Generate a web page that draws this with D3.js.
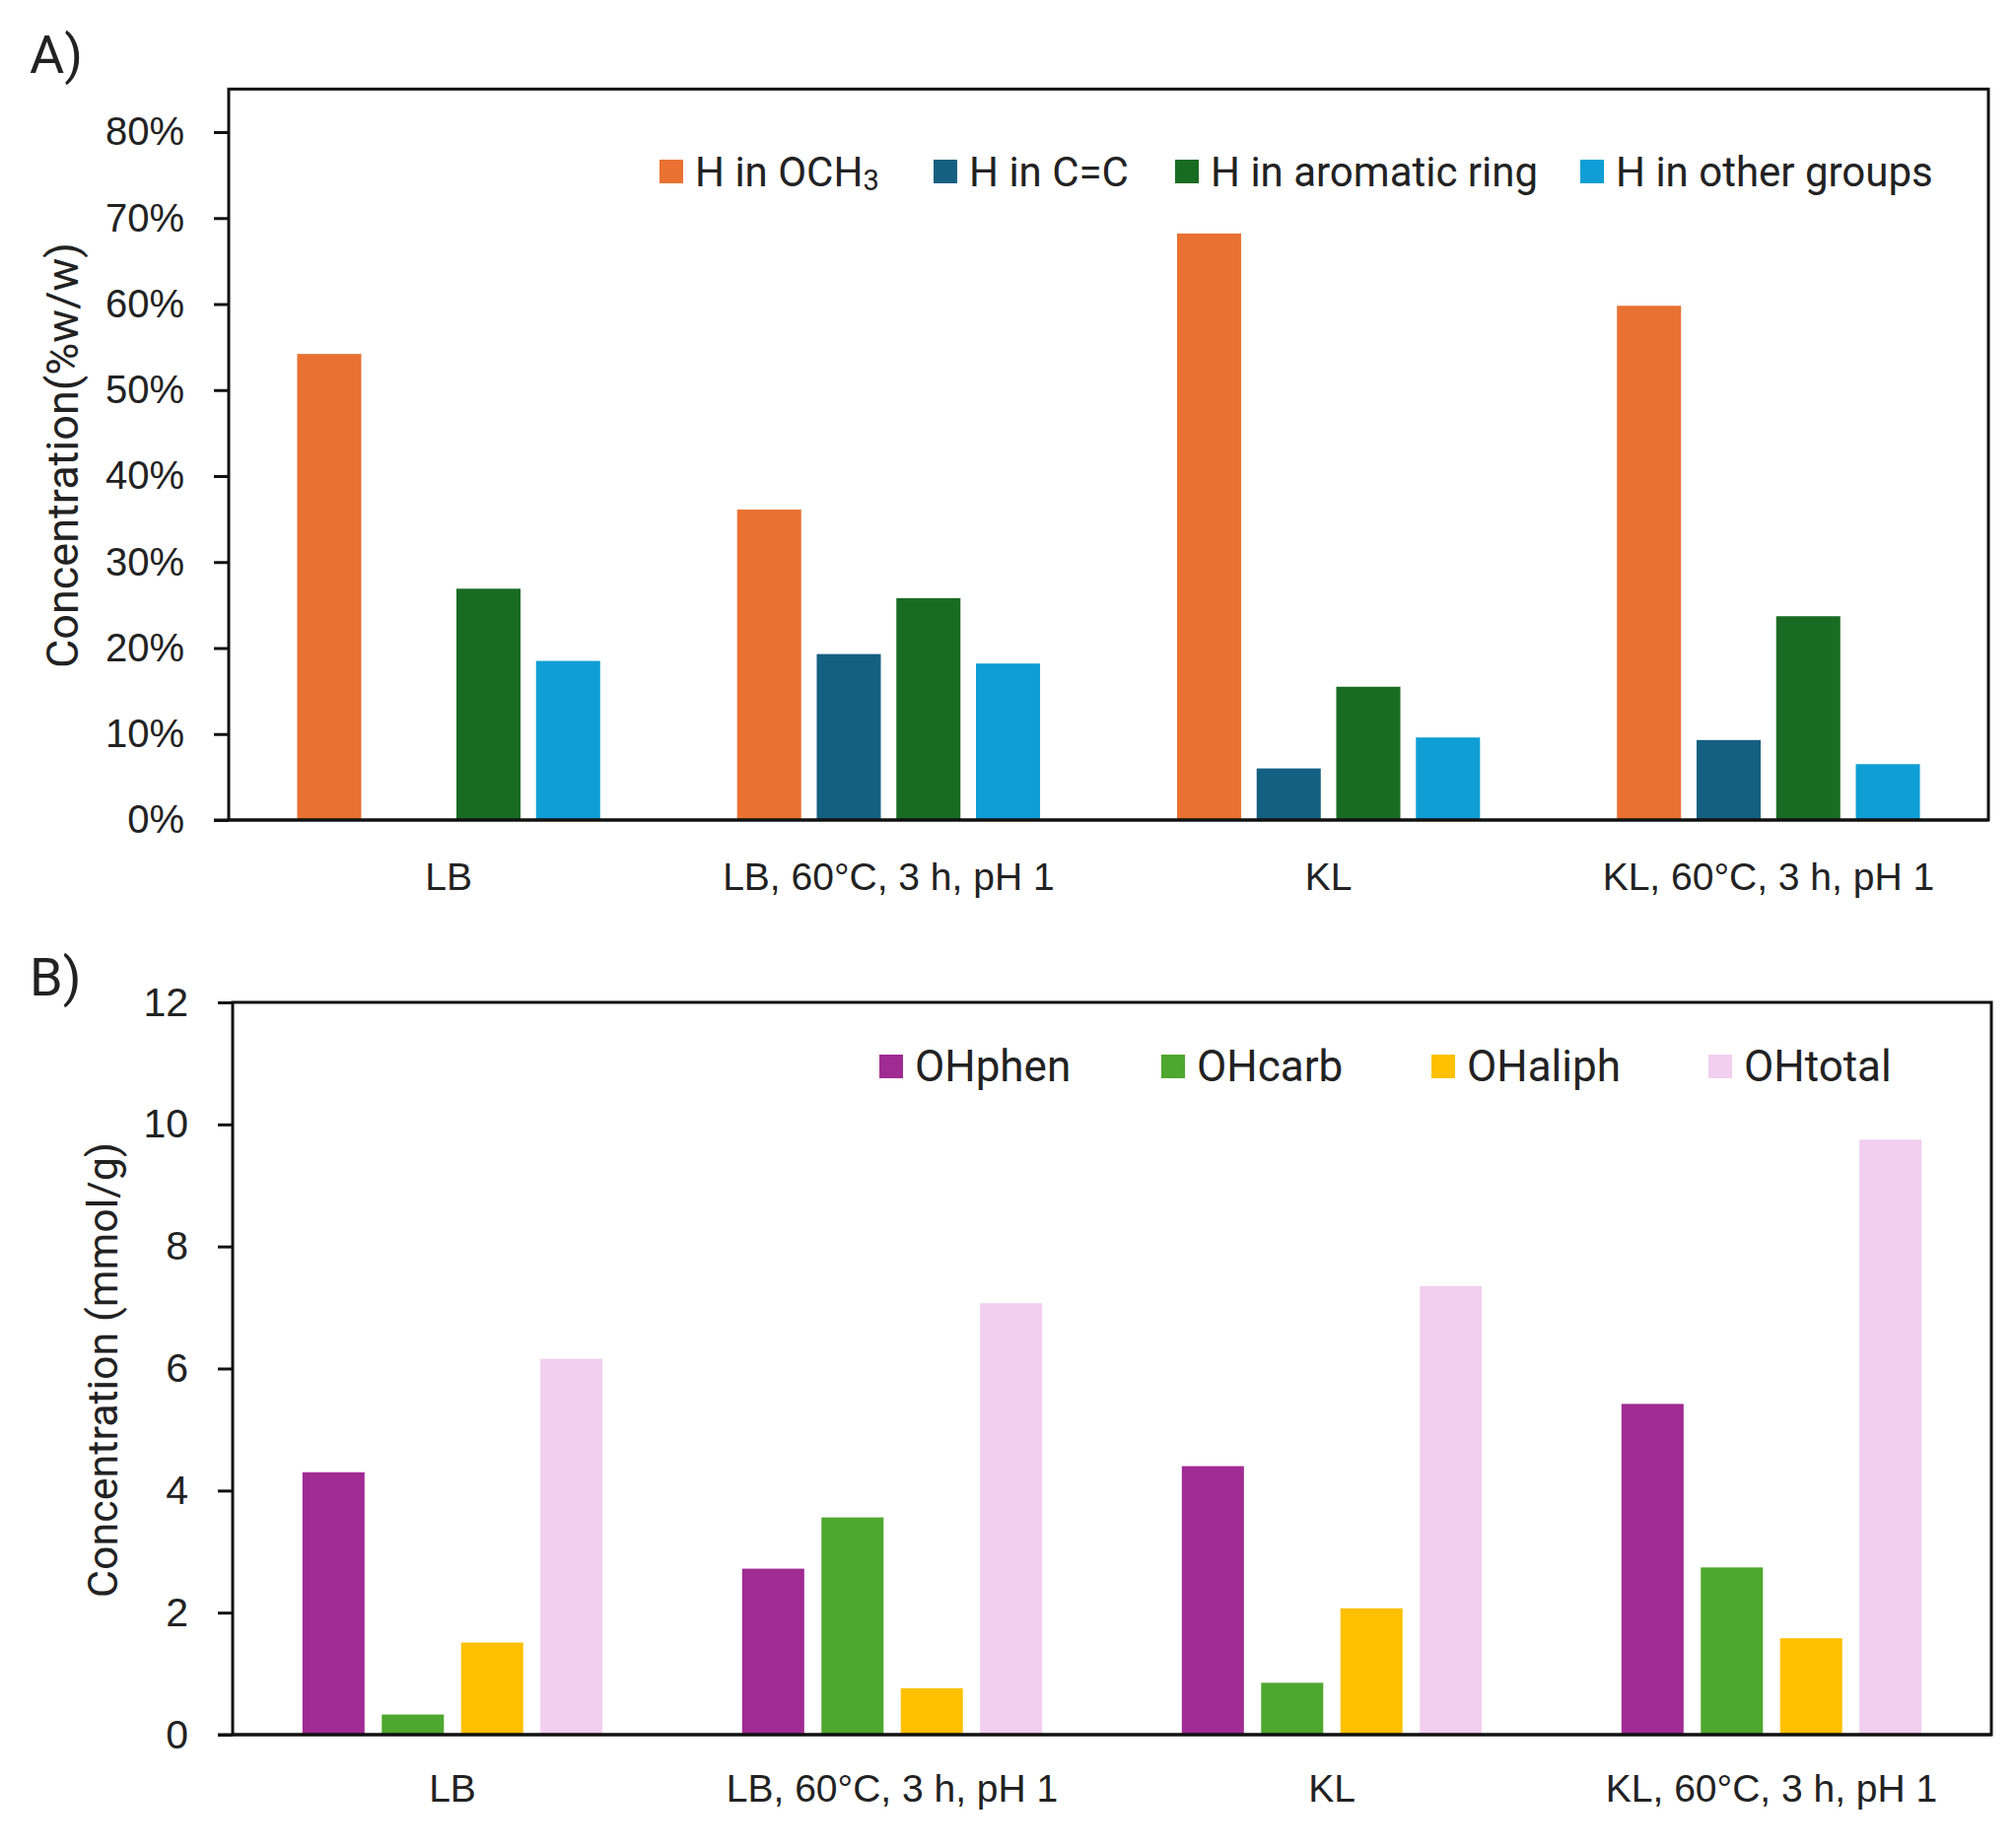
<!DOCTYPE html>
<html>
<head>
<meta charset="utf-8">
<script src="https://cdn.jsdelivr.net/npm/d3@7"></script>
<style>
  body { margin: 0; background: #fff; }
  svg { display: block; }
  .tick text { font-family: "Liberation Sans", Arial, sans-serif; fill: #222; }
</style>
</head>
<body>
<div id="chart"></div>
<script>
// categories shared by both panels
const categories = ["LB", "LB, 60°C, 3 h, pH 1", "KL", "KL, 60°C, 3 h, pH 1"];

// panel A: H distribution (% w/w)
const seriesA = ["H in OCH3", "H in C=C", "H in aromatic ring", "H in other groups"];
const och3     = [0.542, 0.361, 0.682, 0.598];
const cc       = [0.000, 0.193, 0.060, 0.093];
const aromatic = [0.269, 0.258, 0.155, 0.237];
const other    = [0.185, 0.182, 0.096, 0.065];
const ticksA   = [0, 0.1, 0.2, 0.3, 0.4, 0.5, 0.6, 0.7, 0.8];

// panel B: OH groups (mmol/g)
const seriesB = ["OHphen", "OHcarb", "OHaliph", "OHtotal"];
const ohPhen  = [4.30, 2.72, 4.40, 5.42];
const ohCarb  = [0.33, 3.56, 0.85, 2.74];
const ohAliph = [1.51, 0.76, 2.07, 1.58];
const ohTotal = [6.16, 7.07, 7.35, 9.75];
const ticksB  = [0, 2, 4, 6, 8, 10, 12];

const colorsA = ["#E97132", "#156082", "#196B24", "#0F9ED5"];
const colorsB = ["#A02B93", "#4EA72E", "#FFC000", "#F2CEEF"];

const W = 2045, H = 1875;
const svg = d3.select("#chart").append("svg").attr("width", W).attr("height", H);
svg.append("rect").attr("width", W).attr("height", H).attr("fill", "#fff");

const legendFont = "Roboto, 'Noto Sans', sans-serif";

function drawPanel(opt) {
  const g = svg.append("g");
  const values = opt.values;

  const x0 = d3.scaleBand().domain(categories).range([opt.left, opt.right]).padding(0);
  const x1 = d3.scaleBand().domain(opt.series).range([0, x0.bandwidth()])
    .paddingInner(opt.pIn).paddingOuter(opt.pOut);
  const y = opt.y;

  // bars
  opt.series.forEach(function (s, si) {
    g.append("g").selectAll("rect")
      .data(categories)
      .join("rect")
      .attr("x", function (c) { return x0(c) + x1(s); })
      .attr("width", x1.bandwidth())
      .attr("y", function (c, i) { return y(values[si][i]); })
      .attr("height", function (c, i) { return y(0) - y(values[si][i]); })
      .attr("fill", opt.colors[si]);
  });

  // plot frame
  g.append("rect")
    .attr("x", opt.left).attr("y", opt.top)
    .attr("width", opt.right - opt.left).attr("height", y(0) - opt.top)
    .attr("fill", "none").attr("stroke", "#111").attr("stroke-width", 3);

  // y axis
  const ya = g.append("g")
    .attr("transform", "translate(" + opt.left + ",0)")
    .call(d3.axisLeft(y).tickValues(opt.ticks).tickSize(15).tickPadding(30).tickFormat(opt.fmt));
  ya.select(".domain").remove();
  ya.selectAll(".tick line").attr("stroke", "#111").attr("stroke-width", 3);
  ya.selectAll(".tick text").attr("font-size", opt.tickFs);

  // baseline extends to tick
  g.append("line")
    .attr("x1", opt.left - 15).attr("x2", opt.right)
    .attr("y1", y(0)).attr("y2", y(0))
    .attr("stroke", "#111").attr("stroke-width", 3);

  // x axis labels
  const xa = g.append("g")
    .attr("transform", "translate(0," + y(0) + ")")
    .call(d3.axisBottom(x0).tickSize(0).tickPadding(opt.xPad));
  xa.select(".domain").remove();
  xa.selectAll(".tick text").attr("font-size", opt.catFs);

  // y title
  g.append("text")
    .attr("transform", "translate(" + opt.titleX + "," + opt.titleY + ") rotate(-90)")
    .attr("text-anchor", "middle")
    .attr("dominant-baseline", "central")
    .attr("font-family", legendFont)
    .attr("font-size", opt.titleFs)
    .attr("fill", "#222")
    .text(opt.title);

  // panel letter
  g.append("text")
    .attr("x", 30).attr("y", opt.letterY)
    .attr("font-family", legendFont)
    .attr("font-size", 54)
    .attr("fill", "#222")
    .text(opt.letter);

  // legend
  const lg = g.append("g");
  opt.series.forEach(function (s, si) {
    const lx = opt.legendX[si];
    lg.append("rect")
      .attr("x", lx).attr("y", opt.legendY - 12)
      .attr("width", 24).attr("height", 24)
      .attr("fill", opt.colors[si]);
    const t = lg.append("text")
      .attr("x", lx + 36).attr("y", opt.legendY)
      .attr("dominant-baseline", "central")
      .attr("font-family", legendFont)
      .attr("font-size", opt.legendFs)
      .attr("fill", "#222");
    if (s === "H in OCH3") {
      t.append("tspan").text("H in OCH");
      t.append("tspan").attr("font-size", 29).attr("dy", 9).text("3");
    } else {
      t.text(s);
    }
  });
}

const yA = d3.scaleLinear().domain([0, 0.8]).range([832, 134]);
drawPanel({
  values: [och3, cc, aromatic, other],
  series: seriesA, colors: colorsA,
  left: 232, right: 2017, top: yA(0.85),
  y: yA, ticks: ticksA, fmt: d3.format(".0%"),
  pIn: 0.195, pOut: 0.86,
  tickFs: 40, catFs: 39, xPad: 43,
  title: "Concentration(%w/w)", titleX: 63, titleY: 462, titleFs: 45,
  letter: "A)", letterY: 74,
  legendX: [669, 947, 1192, 1603], legendY: 174, legendFs: 42
});

const yB = d3.scaleLinear().domain([0, 12]).range([1760, 1017]);
drawPanel({
  values: [ohPhen, ohCarb, ohAliph, ohTotal],
  series: seriesB, colors: colorsB,
  left: 236, right: 2020, top: yB(12),
  y: yB, ticks: ticksB, fmt: d3.format("d"),
  pIn: 0.217, pOut: 0.88,
  tickFs: 41, catFs: 39, xPad: 40,
  title: "Concentration (mmol/g)", titleX: 104, titleY: 1390, titleFs: 43,
  letter: "B)", letterY: 1010,
  legendX: [892, 1178, 1452, 1733], legendY: 1082, legendFs: 44
});
</script>
</body>
</html>
